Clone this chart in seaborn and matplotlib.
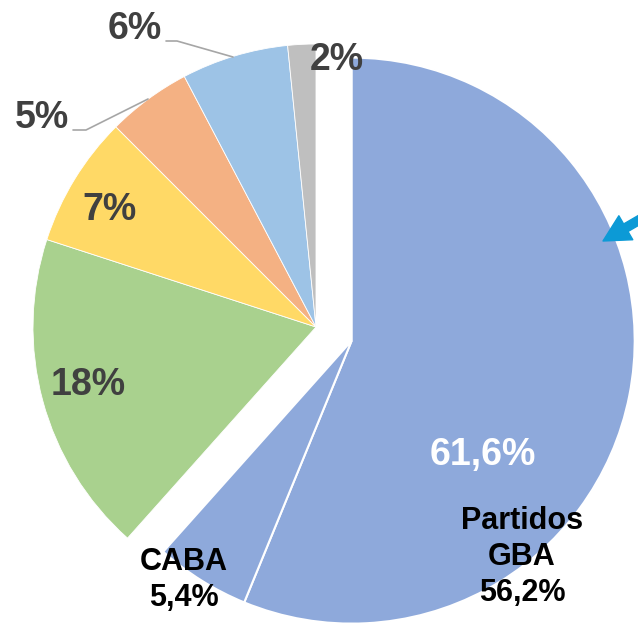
import numpy as np
import matplotlib
matplotlib.use("Agg")
import matplotlib.pyplot as plt
import seaborn as sns

sns.set_theme(style="white")
plt.rcParams['font.family'] = ['Liberation Sans', 'DejaVu Sans']

# data (clockwise from 12 o'clock), shares
names = ['Partidos GBA', 'CABA', 'grupo 2', 'grupo 3', 'grupo 4', 'grupo 5', 'grupo 6']
values = [56.2, 5.4, 18.4, 7.5, 4.8, 6.1, 1.6]
colors = ['#8EA9DB', '#8EA9DB', '#A9D18E', '#FFD966', '#F4B183', '#9DC3E6', '#BFBFBF']
pct_labels = ['61,6%', '18%', '7%', '5%', '6%', '2%']

W, H = 638, 625
R = 283.0          # pie radius in pixels
CX, CY = 316, 327  # pie centre in pixels


def px(x, y):
    # pixel position -> data units (radius = 1)
    return (x - CX) / R, (CY - y) / R


fig = plt.figure(figsize=(W / 100, H / 100), dpi=100)
ax = fig.add_axes([0, 0, 1, 1])

wedges, _ = ax.pie(values, colors=colors, startangle=90, counterclock=False,
                   radius=1, wedgeprops=dict(edgecolor='white', linewidth=0.6))

# explode the two blue wedges together along their joint mid angle
share = (values[0] + values[1]) / sum(values)
mid = np.deg2rad(90 - share * 360 / 2)
off = 0.135
for w in wedges[:2]:
    w.set_center((off * np.cos(mid), off * np.sin(mid)))
    w.set_linewidth(1.5)

ax.set_xlim(-CX / R, (W - CX) / R)
ax.set_ylim(-(H - CY) / R, CY / R)
ax.set_aspect('equal')
ax.axis('off')

grey = '#404040'
kw = dict(ha='center', va='center', fontweight='bold', fontsize=27)
ax.text(*px(135, 29), pct_labels[4], color=grey, **kw)
ax.text(*px(337, 60), pct_labels[5], color=grey, **kw)
ax.text(*px(42, 118), pct_labels[3], color=grey, **kw)
ax.text(*px(110, 210), pct_labels[2], color=grey, **kw)
ax.text(*px(88, 385), pct_labels[1], color=grey, **kw)
ax.text(*px(483, 455), pct_labels[0], color='white', **kw)

kw2 = dict(ha='center', va='center', fontweight='bold', fontsize=22,
           color='black', linespacing=1.25)
ax.text(*px(522, 557), 'Partidos\nGBA\n56,2%', **kw2)
ax.text(*px(184, 580), 'CABA\n5,4%', **kw2)

# leader lines
for pts in ([(166, 41), (177, 41), (233, 57)], [(73, 130), (86, 130), (148, 99)]):
    xs, ys = zip(*[px(x, y) for x, y in pts])
    ax.plot(xs, ys, color='#A6A6A6', lw=1.2)

# arrow entering from the right edge
ax.annotate('', xy=px(603, 241), xytext=px(665, 205), annotation_clip=False,
            arrowprops=dict(arrowstyle='simple,head_length=1.0,head_width=1.05,tail_width=0.33',
                            color='#0C9AD6', mutation_scale=19, shrinkA=0, shrinkB=0))

fig.savefig('out.png', dpi=100)
